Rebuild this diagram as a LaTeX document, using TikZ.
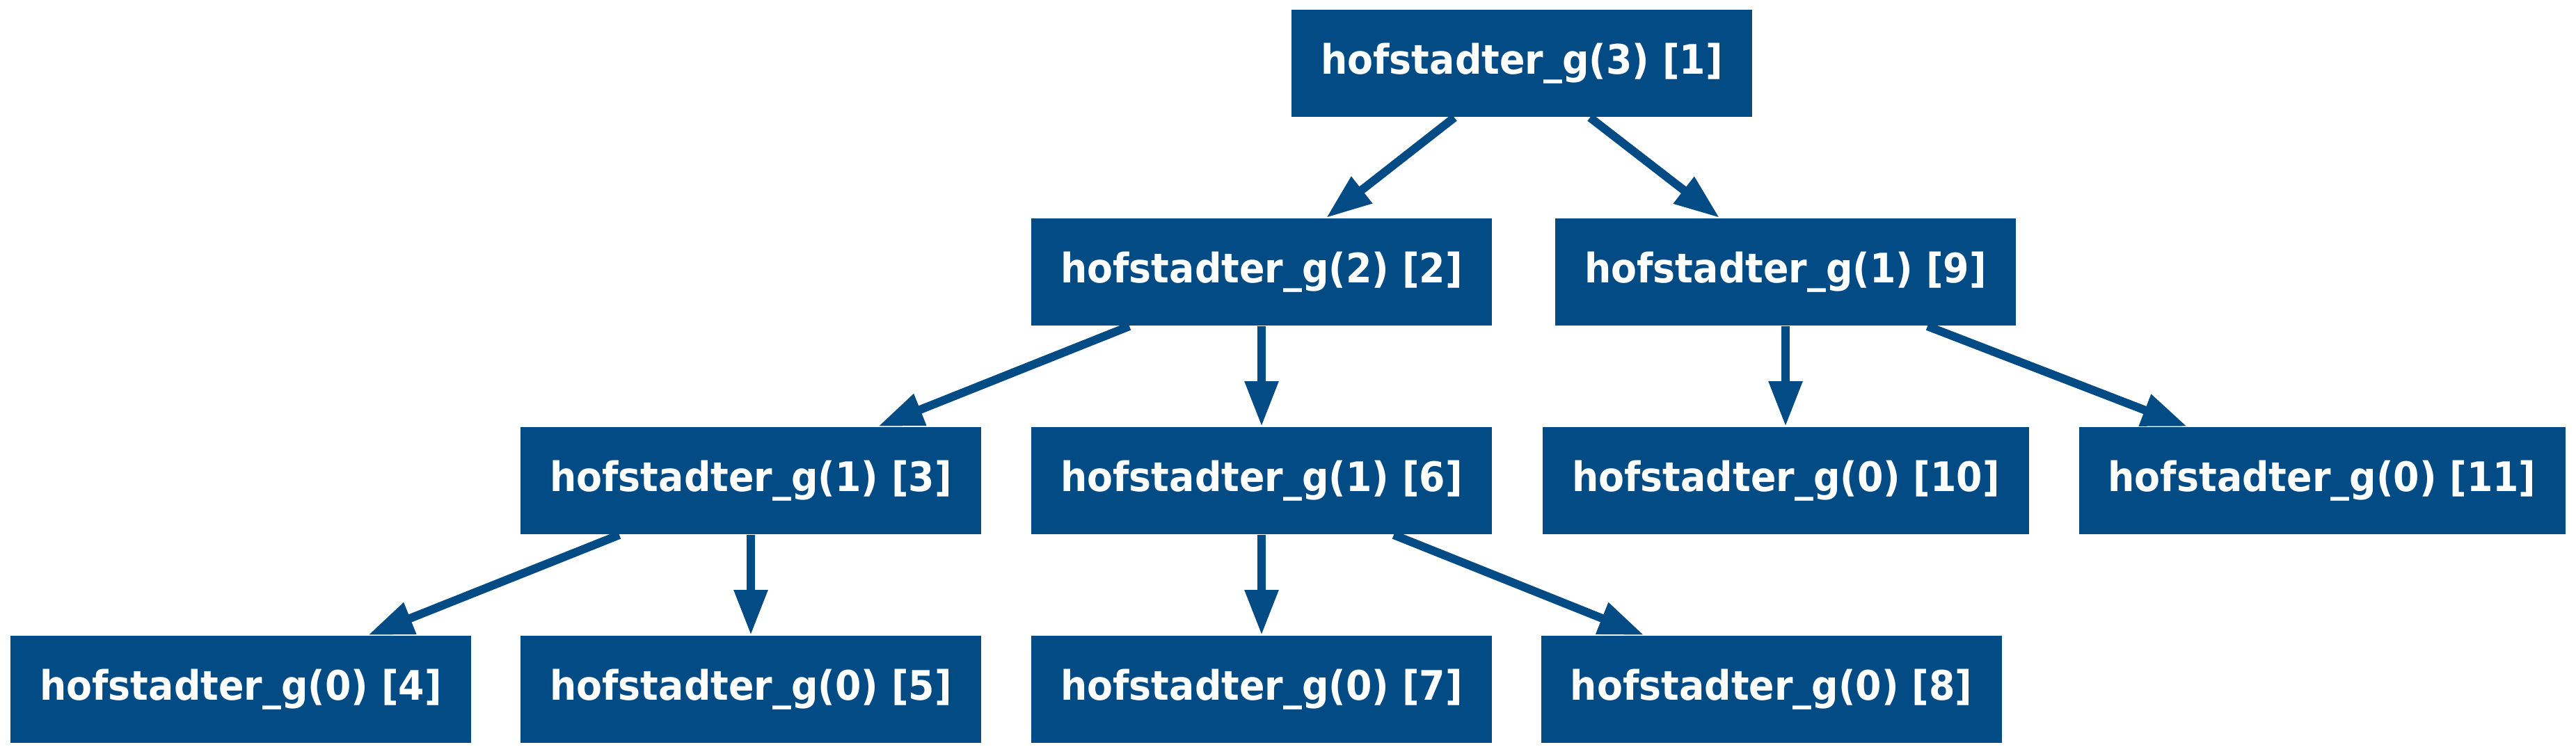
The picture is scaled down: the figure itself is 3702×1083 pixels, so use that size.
\documentclass[tikz,border=0pt]{standalone}
\usepackage{fontspec}
\setmainfont[FakeStretch=0.92]{DejaVu Sans}
\usetikzlibrary{arrows.meta,calc}
\definecolor{gblue}{RGB}{2,75,133}
\begin{document}
\begin{tikzpicture}[x=0.2pt,y=-0.2pt,
  gnode/.style={fill=gblue,text=white,inner sep=0pt,minimum width=132.4pt,minimum height=30.8pt,font=\fontsize{11.7pt}{14pt}\selectfont\bfseries},
  wnode/.style={gnode,minimum width=139.8pt},
  edge/.style={draw=gblue,line width=2.4pt,-{Triangle[length=13pt,width=9.2pt]}}]
\useasboundingbox (0,0) rectangle (3702,1083);
\node[gnode] (n1) at (2187,91) {hofstadter\_g(3) [1]};
\node[gnode] (n2) at (1813,391) {hofstadter\_g(2) [2]};
\node[gnode] (n9) at (2566,391) {hofstadter\_g(1) [9]};
\node[gnode] (n3) at (1079,691) {hofstadter\_g(1) [3]};
\node[gnode] (n6) at (1813,691) {hofstadter\_g(1) [6]};
\node[wnode] (n10) at (2566.5,691) {hofstadter\_g(0) [10]};
\node[wnode] (n11) at (3337,691) {hofstadter\_g(0) [11]};
\node[gnode] (n4) at (346,991) {hofstadter\_g(0) [4]};
\node[gnode] (n5) at (1079,991) {hofstadter\_g(0) [5]};
\node[gnode] (n7) at (1813,991) {hofstadter\_g(0) [7]};
\node[gnode] (n8) at (2545.5,991) {hofstadter\_g(0) [8]};
\draw[edge] ($(n1.south)+(-97,0)$) -- ($(n2.north)+(93,0)$);
\draw[edge] ($(n1.south)+(98,0)$) -- ($(n9.north)+(-95,0)$);
\draw[edge] ($(n2.south)+(-190,0)$) -- ($(n3.north)+(183,0)$);
\draw[edge] (n2.south) -- (n6.north);
\draw[edge] (n9.south) -- (n9.south |- n10.north);
\draw[edge] ($(n9.south)+(204,0)$) -- ($(n11.north)+(-194,0)$);
\draw[edge] ($(n3.south)+(-189,0)$) -- ($(n4.north)+(183,0)$);
\draw[edge] (n3.south) -- (n5.north);
\draw[edge] (n6.south) -- (n7.north);
\draw[edge] ($(n6.south)+(190,0)$) -- ($(n8.north)+(-183,0)$);
\end{tikzpicture}
\end{document}
